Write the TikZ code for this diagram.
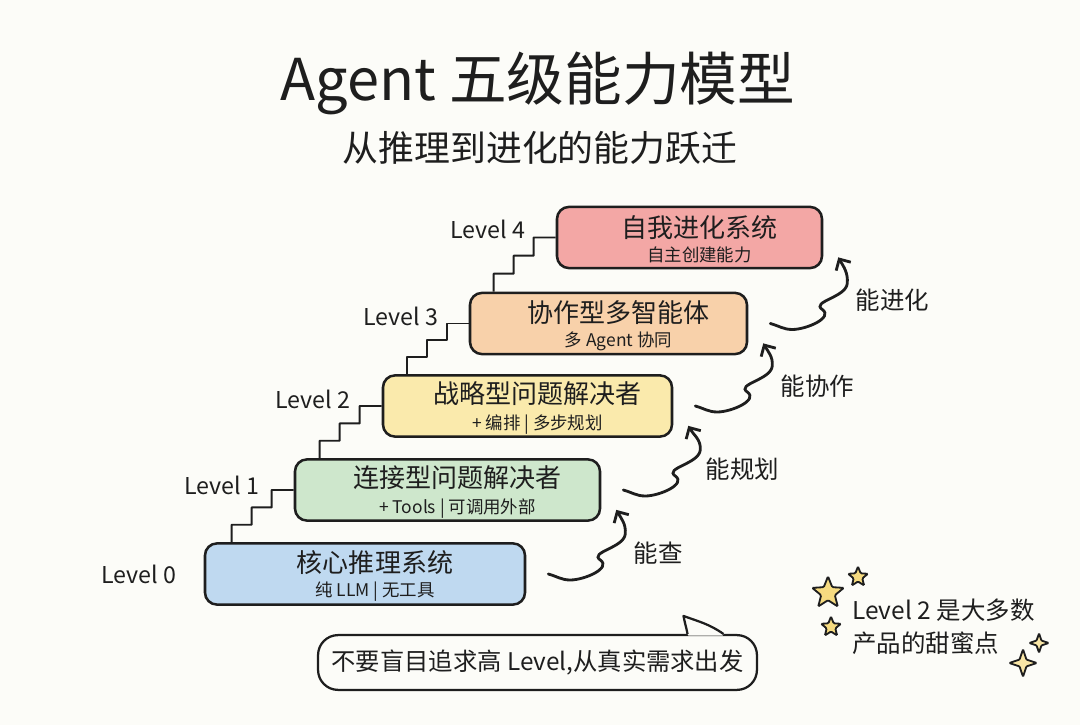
\documentclass[tikz,border=0pt]{standalone}
\usepackage{fontspec}
\setmainfont{Noto Sans CJK SC}
\usepackage{xcolor}
\usetikzlibrary{shapes,arrows.meta,positioning,calc}

\definecolor{paper}{RGB}{252,252,248}
\definecolor{ink}{RGB}{30,30,30}
\definecolor{lvzero}{RGB}{191,217,240}
\definecolor{lvone}{RGB}{206,231,204}
\definecolor{lvtwo}{RGB}{250,234,172}
\definecolor{lvthree}{RGB}{248,209,170}
\definecolor{lvfour}{RGB}{243,167,165}
\definecolor{starc}{RGB}{246,219,128}

\tikzset{
  levelbox/.style={draw=ink, line width=1.8pt, rounded corners=0.3cm, inner sep=0pt, minimum height=1.53cm},
  boxtext/.style={align=center, text=ink, inner sep=0pt},
  lvl/.style={font=\fontsize{16.5}{18}\selectfont, text=ink, inner sep=0pt},
  stairs/.style={ink, line width=1.4pt, line join=round},
  evolve/.style={ink, line width=2pt, line cap=round, -{Straight Barb[length=6pt,width=12pt]}},
  gain/.style={font=\fontsize{17.4}{20}\selectfont, text=ink, anchor=west, inner sep=0pt},
  bubble/.style={draw=ink, line width=1.6pt, rounded corners=0.5cm, fill=paper, minimum width=10.97cm, minimum height=1.37cm, font=\fontsize{17.3}{20}\selectfont, text=ink},
  bigstar/.style={star, star points=5, star point ratio=2.3, draw=ink, fill=starc, line width=1.3pt, rounded corners=0.8pt, inner sep=0pt},
  sparkle/.style={star, star points=4, star point ratio=2.8, draw=ink, fill=starc!70, line width=1.3pt, rounded corners=0.6pt, inner sep=0pt}
}

\begin{document}
\begin{tikzpicture}[x=0.025cm,y=0.025cm]
% Paper
\fill[paper] (0,0) rectangle (1080,725);
\useasboundingbox (0,0) rectangle (1080,725);

% Title
\node[font=\fontsize{41}{46}\selectfont, text=ink] (title) at (538,642) {Agent 五级能力模型};
\node[font=\fontsize{25.5}{30}\selectfont, text=ink] (subtitle) at (540,577) {从推理到进化的能力跃迁};

% Level boxes
\foreach \i/\cx/\cy/\w/\col/\main/\sub in {
  0/365/151/320/lvzero/{核心推理系统}/{纯 LLM | 无工具},
  1/447.5/235/305/lvone/{连接型问题解决者}/{+ Tools | 可调用外部},
  2/527.5/319/289/lvtwo/{战略型问题解决者}/{+ 编排 | 多步规划},
  3/608.5/401.5/277/lvthree/{协作型多智能体}/{多 Agent 协同},
  4/689.5/487.5/265/lvfour/{自我进化系统}/{自主创建能力}
} {
  \node[levelbox, fill=\col, minimum width=\w*0.025cm] (L\i) at (\cx,\cy) {};
  \node[boxtext] (T\i) at ([shift={(10,-2)}]L\i.center)
    {\fontsize{18.5}{16}\selectfont\main\\[5pt]\fontsize{12.4}{16}\selectfont\sub};
}

% Stairs between levels
\foreach \i/\j in {1/0, 2/1, 3/2, 4/3}
  \draw[stairs] let \p1=(L\i.west), \p2=(L\j.north), \n1={(\y1-\y2)/3} in
    (\x1-1.55cm,\y2) -- ++(0pt,\n1) -- ++(0.5cm,0pt) -- ++(0pt,\n1)
    -- ++(0.5cm,0pt) -- ++(0pt,\n1) -- (L\i.west);

% Level labels
\foreach \i/\gap/\up in {0/0.68/0, 1/0.85/5, 2/0.78/7, 3/0.75/7, 4/0.75/8}
  \node[lvl, left=\gap cm of L\i.west, yshift=\up*0.25mm] (V\i) {Level \i};

% Wavy arrows to the next level
\foreach \i/\j/\txt in {0/1/能查, 1/2/能规划, 2/3/能协作, 3/4/能进化} {
  \coordinate (s\i) at ([shift={(22,0)}]L\i.east);
  \coordinate (t\j) at ([shift={(15,12)}]L\j.south east);
  \draw[evolve] (s\i) to[out=-15,in=180] ++(22,-6) to[out=0,in=-35] ++(30,20)
    to[out=145,in=-95] ++(25,26) to[out=85,in=-60] (t\j);
  \node[gain] (g\j) at ([shift={(17,-43)}]t\j) {\txt};
}

% Speech bubble
\node[bubble] (bub) at (537.5,62.5) {不要盲目追求高 Level,从真实需求出发};
\fill[paper] ([shift={(151,-1.7)}]bub.north) -- ([shift={(150,0)}]bub.north)
  to[out=100,in=-80] ([shift={(146,18)}]bub.north)
  to[out=-20,in=145] ([shift={(186,0)}]bub.north) -- ([shift={(185,-1.7)}]bub.north) -- cycle;
\draw[ink, line width=1.6pt, line join=round] ([shift={(150,0)}]bub.north)
  to[out=100,in=-80] ([shift={(146,18)}]bub.north)
  to[out=-20,in=145] ([shift={(186,0)}]bub.north);

% Stars and sweet spot note
\node[bigstar, minimum size=0.83cm] (st1) at (828,132) {};
\node[bigstar, minimum size=0.52cm] (st2) at (858,148) {};
\node[bigstar, minimum size=0.52cm] (st3) at (831,98) {};
\node[sparkle, minimum size=0.68cm] (sp1) at (1023,62) {};
\node[sparkle, minimum size=0.48cm] (sp2) at (1039,82) {};
\node[align=left, anchor=west, inner sep=0pt, text=ink, font=\fontsize{17.4}{23.5}\selectfont] (note) at (852,98.5)
  {Level 2 是大多数\\产品的甜蜜点};
\end{tikzpicture}
\end{document}
